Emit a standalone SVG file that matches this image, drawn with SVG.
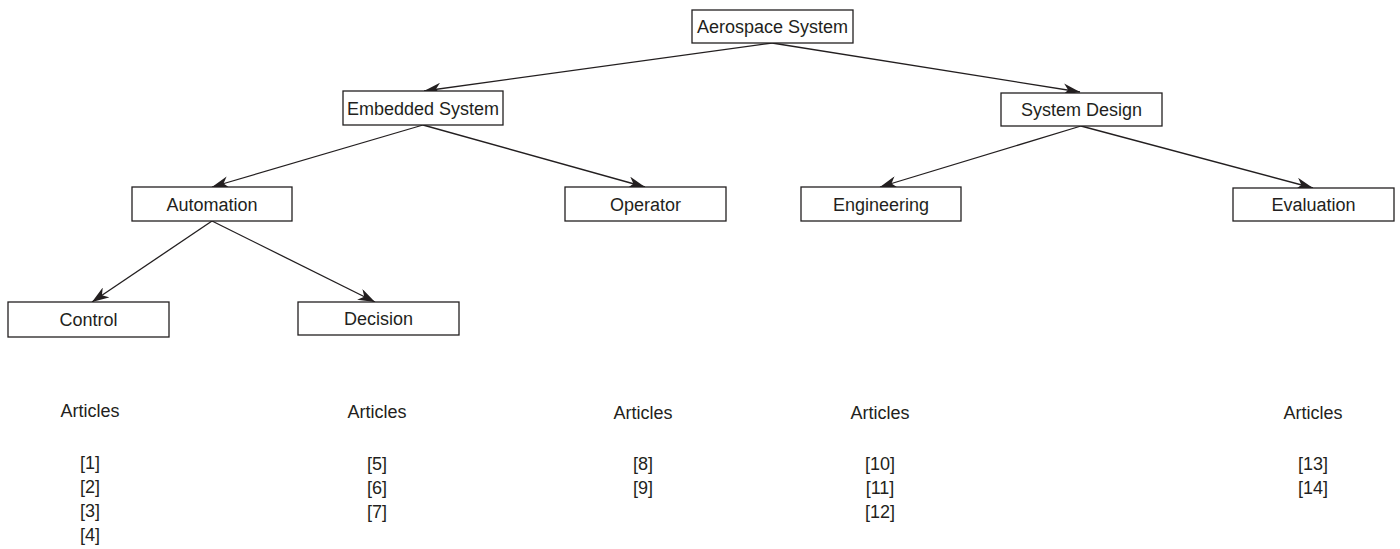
<svg xmlns="http://www.w3.org/2000/svg" width="1400" height="549" viewBox="0 0 1400 549">
<style>
.box{fill:#fff;stroke:#231f20;stroke-width:1.3}
.t{font-family:"Liberation Sans",Arial,sans-serif;font-size:18px;fill:#231f20;text-anchor:middle}
.c{stroke:#231f20;stroke-width:1.3;fill:none;marker-end:url(#ah)}
</style>
<defs>
<marker id="ah" markerUnits="userSpaceOnUse" markerWidth="18" markerHeight="12" viewBox="0 0 18 12" refX="17" refY="6" orient="auto">
<path d="M0,0 L17,6 L0,12 L5,6 z" fill="#231f20"/>
</marker>
</defs>
<rect width="1400" height="549" fill="#fff"/>
<g id="connectors">
<line class="c" x1="772" y1="43" x2="424" y2="91"/>
<line class="c" x1="772" y1="43" x2="1080" y2="92"/>
<line class="c" x1="423" y1="125" x2="212" y2="187"/>
<line class="c" x1="423" y1="125" x2="645" y2="187"/>
<line class="c" x1="1081" y1="126" x2="880" y2="187"/>
<line class="c" x1="1081" y1="126" x2="1313" y2="188"/>
<line class="c" x1="212" y1="221" x2="92" y2="302"/>
<line class="c" x1="212" y1="221" x2="375" y2="302"/>
</g>
<g id="n-aerospace"><rect class="box" x="692" y="10" width="161" height="33"/><text class="t" x="772.5" y="33">Aerospace System</text></g>
<g id="n-embedded"><rect class="box" x="343" y="91" width="160" height="34"/><text class="t" x="423" y="114.5">Embedded System</text></g>
<g id="n-sysdesign"><rect class="box" x="1001" y="93" width="161" height="33"/><text class="t" x="1081.5" y="116">System Design</text></g>
<g id="n-automation"><rect class="box" x="132" y="187" width="160" height="34"/><text class="t" x="212" y="210.5">Automation</text></g>
<g id="n-operator"><rect class="box" x="565" y="187" width="161" height="34"/><text class="t" x="645.5" y="210.5">Operator</text></g>
<g id="n-engineering"><rect class="box" x="801" y="187" width="160" height="34"/><text class="t" x="881" y="210.5">Engineering</text></g>
<g id="n-evaluation"><rect class="box" x="1233" y="188" width="161" height="33"/><text class="t" x="1313.5" y="211">Evaluation</text></g>
<g id="n-control"><rect class="box" x="8" y="302" width="161" height="35"/><text class="t" x="88.5" y="326">Control</text></g>
<g id="n-decision"><rect class="box" x="298" y="302" width="161" height="33"/><text class="t" x="378.5" y="325">Decision</text></g>
<g id="articles-1"><text class="t" x="90" y="417">Articles</text><text class="t" x="90" y="469">[1]</text><text class="t" x="90" y="493">[2]</text><text class="t" x="90" y="517">[3]</text><text class="t" x="90" y="541">[4]</text></g>
<g id="articles-2"><text class="t" x="377" y="418">Articles</text><text class="t" x="377" y="470">[5]</text><text class="t" x="377" y="494">[6]</text><text class="t" x="377" y="518">[7]</text></g>
<g id="articles-3"><text class="t" x="643" y="419">Articles</text><text class="t" x="643" y="470">[8]</text><text class="t" x="643" y="494">[9]</text></g>
<g id="articles-4"><text class="t" x="880" y="419">Articles</text><text class="t" x="880" y="470">[10]</text><text class="t" x="880" y="494">[11]</text><text class="t" x="880" y="518">[12]</text></g>
<g id="articles-5"><text class="t" x="1313" y="419">Articles</text><text class="t" x="1313" y="470">[13]</text><text class="t" x="1313" y="494">[14]</text></g>
</svg>
